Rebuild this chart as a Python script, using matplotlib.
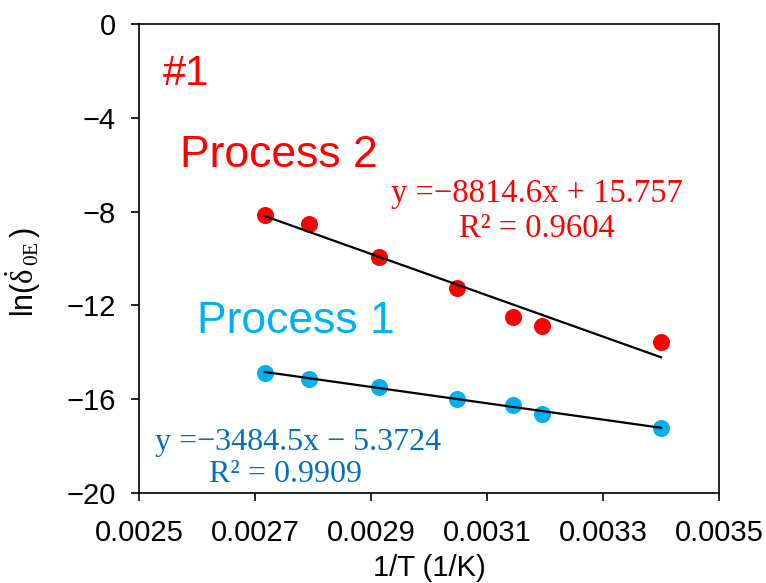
import numpy as np
import matplotlib.pyplot as plt

plt.rcParams['font.family'] = ['Liberation Sans', 'DejaVu Sans']
plt.rcParams['mathtext.fontset'] = 'custom'
plt.rcParams['mathtext.rm'] = 'Liberation Serif'
plt.rcParams['mathtext.it'] = 'Liberation Serif:italic'
plt.rcParams['mathtext.default'] = 'rm'

# 1/T values for the test temperatures
inv_T = [0.002717, 0.002793, 0.002914, 0.003048, 0.003145, 0.003195, 0.003400]
# ln of the equivalent creep rate for each process
ln_rate_p2 = [-8.14, -8.53, -9.94, -11.26, -12.49, -12.88, -13.56]
ln_rate_p1 = [-14.88, -15.14, -15.48, -15.99, -16.25, -16.63, -17.23]

# linear fits (slope, intercept, R^2)
fit_p2 = (-8814.6, 15.757, 0.9604)
fit_p1 = (-3484.5, -5.3724, 0.9909)

x_ticks = [0.0025, 0.0027, 0.0029, 0.0031, 0.0033, 0.0035]
y_ticks = [-20, -16, -12, -8, -4, 0]

red = '#FF0000'
cyan = '#00B0F0'
blue = '#0070C0'

fig = plt.figure(figsize=(7.66, 5.83), dpi=100)
ax = fig.add_axes([0.1815, 0.1544, 0.7572, 0.8044])

xs = np.array([min(inv_T), max(inv_T)])
for (k, b, r2) in (fit_p2, fit_p1):
    ax.plot(xs, k * xs + b, color='black', lw=1.6, zorder=3)

ax.scatter(inv_T, ln_rate_p2, s=150, color=red, zorder=2, linewidths=0)
ax.scatter(inv_T, ln_rate_p1, s=150, color=cyan, zorder=2, linewidths=0)

ax.set_xlim(0.0025, 0.0035)
ax.set_ylim(-20, 0)
ax.set_xticks(x_ticks)
ax.set_xticklabels(['%.4f' % v for v in x_ticks])
ax.set_yticks(y_ticks)
ax.tick_params(direction='out', length=5.5, width=1.2, labelsize=21)
ax.tick_params(axis='x', pad=13)
ax.tick_params(axis='y', pad=11)
for sp in ax.spines.values():
    sp.set_linewidth(1.2)

ax.set_xlabel('1/T (1/K)', fontsize=21, labelpad=5)
ax.set_ylabel(r'ln($\dot{\delta}_{\,0E}\,$)', fontsize=22)
ax.yaxis.set_label_coords(-0.166, 0.47)

ax.text(0.041, 0.870, '#1', transform=ax.transAxes, color=red, fontsize=30, va='baseline')
ax.text(0.0707, 0.695, 'Process 2', transform=ax.transAxes, color=red, fontsize=32, va='baseline')
ax.text(0.100, 0.341, 'Process 1', transform=ax.transAxes, color=cyan, fontsize=32, va='baseline')

serif = ['Liberation Serif', 'DejaVu Serif']
ax.text(0.686, 0.620, 'y =\u2212%.1fx + %.3f' % (-fit_p2[0], fit_p2[1]), transform=ax.transAxes,
        color=red, fontsize=23.5, family=serif, ha='center', va='baseline')
ax.text(0.686, 0.546, 'R\u00b2 = %.4f' % fit_p2[2], transform=ax.transAxes,
        color=red, fontsize=23.5, family=serif, ha='center', va='baseline')
ax.text(0.274, 0.0917, 'y =\u2212%.1fx \u2212 %.4f' % (-fit_p1[0], -fit_p1[1]), transform=ax.transAxes,
        color=blue, fontsize=23, family=serif, ha='center', va='baseline')
ax.text(0.252, 0.0235, 'R\u00b2 = %.4f' % fit_p1[2], transform=ax.transAxes,
        color=blue, fontsize=23, family=serif, ha='center', va='baseline')

fig.savefig('out.png', dpi=100)
